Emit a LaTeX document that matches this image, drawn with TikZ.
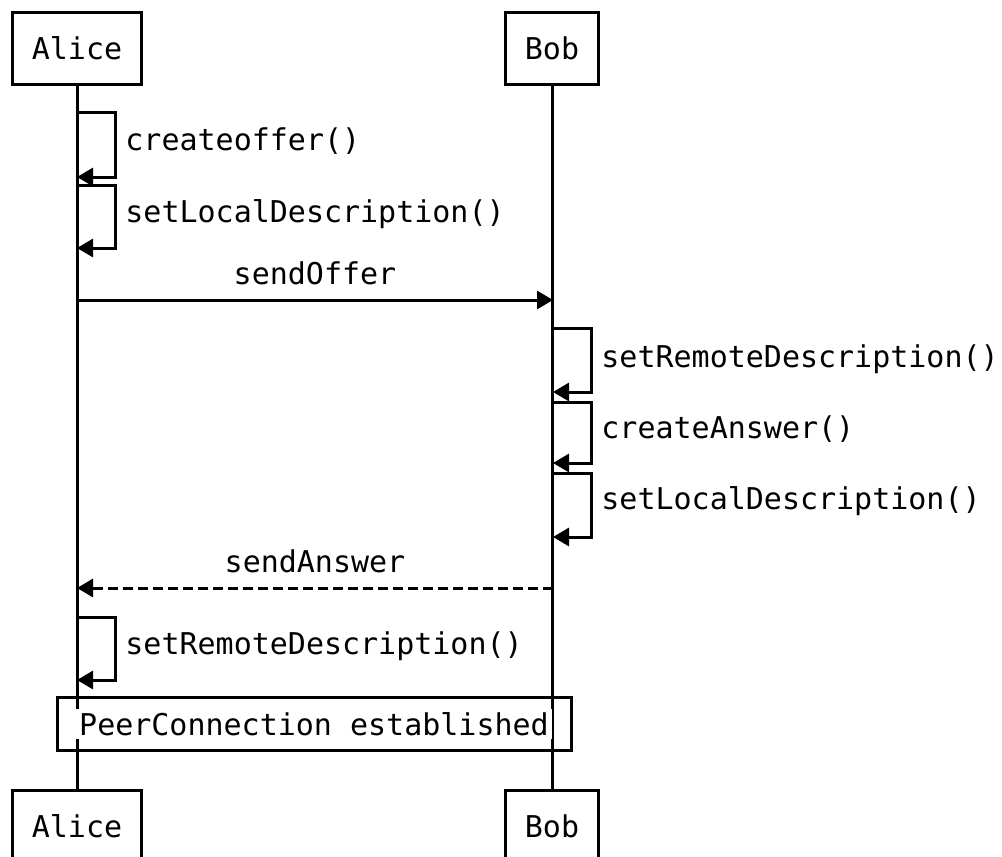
\documentclass[tikz,border=0pt]{standalone}
\usepackage		 {fontspec}
\setmonofont{DejaVu Sans Mono}
\usetikzlibrary{arrows.meta,positioning}

\begin{document}
\begin{tikzpicture}[x=0.5pt,y=-0.5pt]
  \tikzset{actor/.style={draw,line width=1.5pt,minimum height=36pt,inner xsep=9.5pt,inner ysep=0pt,font=\ttfamily\fontsize{15}{18}\selectfont},
           lbl/.style={inner sep=0pt,font=\ttfamily\fontsize{15}{18}\selectfont},
           life/.style={line width=1.5pt},
           msg/.style={line width=1.5pt,-{Triangle[length=8pt,width=9pt]}}}
  \useasboundingbox (0,0) rectangle (1002,857);
  \node [actor] (alice) at (77,48) {Alice};
  \node [actor] (bob) at (552,48) {Bob};
  \node [actor] (aliceEnd) at (77,826) {Alice};
  \node [actor] (bobEnd) at (552,826) {Bob};
  \draw [life] (alice) -- (aliceEnd);
  \draw [life] (bob) -- (bobEnd);
  % Alice prepares the offer
  \coordinate (a1) at (77,112);  \coordinate (a2) at (77,177);
  \coordinate (a3) at (77,185);  \coordinate (a4) at (77,248);
  \draw [msg] (a1) -- ++(38,0) |- (a2);
  \draw [msg] (a3) -- ++(38,0) |- (a4);
  \node [lbl,anchor=base west] (createOffer) at (125,150) {createoffer()};
  \node [lbl,anchor=base west] (setLocalA) at (125,222) {setLocalDescription()};
  \coordinate (offerA) at (77,300);  \coordinate (offerB) at (553,300);
  \draw [msg] (offerA) -- node [lbl,above=7pt] (sendOffer) {sendOffer} (offerB);
  % Bob answers
  \coordinate (b1) at (553,328);  \coordinate (b2) at (553,392);
  \coordinate (b3) at (553,402);  \coordinate (b4) at (553,463);
  \coordinate (b5) at (553,473);  \coordinate (b6) at (553,537);
  \draw [msg] (b1) -- ++(38,0) |- (b2);
  \draw [msg] (b3) -- ++(38,0) |- (b4);
  \draw [msg] (b5) -- ++(38,0) |- (b6);
  \node [lbl,anchor=base west] (setRemoteB) at (601,367) {setRemoteDescription()};
  \node [lbl,anchor=base west] (createAnswer) at (601,438) {createAnswer()};
  \node [lbl,anchor=base west] (setLocalB) at (601,509) {setLocalDescription()};
  \coordinate (answerB) at (553,588);  \coordinate (answerA) at (77,588);
  \draw [msg,dash pattern=on 5pt off 2.5pt] (answerB) -- node [lbl,above=7pt] (sendAnswer) {sendAnswer} (answerA);
  % back at Alice
  \coordinate (a5) at (77,617);  \coordinate (a6) at (77,680);
  \draw [msg] (a5) -- ++(38,0) |- (a6);
  \node [lbl,anchor=base west] (setRemoteA) at (125,654) {setRemoteDescription()};
  \node [lbl,draw,line width=1.5pt,minimum width=257pt,minimum height=26.5pt] (established) at (314,724)
    {\setlength{\fboxsep}{1.5pt}\colorbox{white}{PeerConnection established}};
\end{tikzpicture}
\end{document}
